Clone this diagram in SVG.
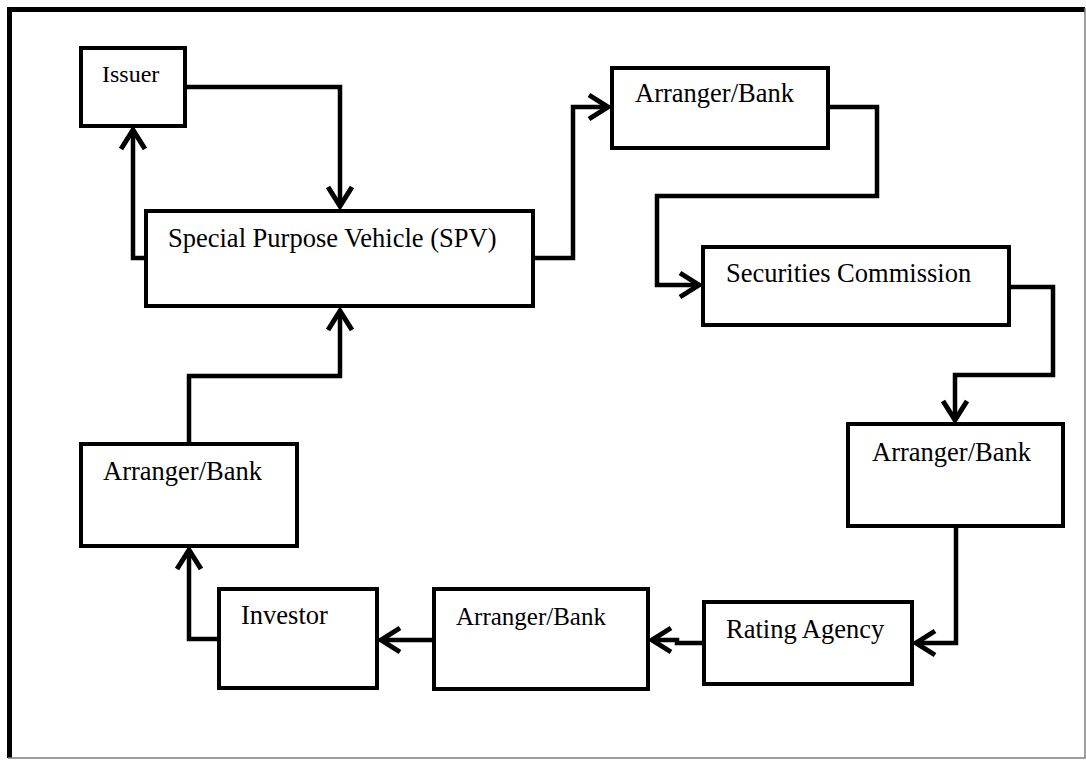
<svg xmlns="http://www.w3.org/2000/svg" width="1086" height="760" viewBox="0 0 1086 760">
  <style>
    .box { fill: #ffffff; stroke: #000000; stroke-width: 4; }
    .lbl { font-family: "Liberation Serif", "Times New Roman", serif; font-size: 26.5px; fill: #000000; }
    .link { fill: none; stroke: #000000; stroke-width: 4.5; stroke-linejoin: miter; marker-end: url(#chev); }
  </style>
  <defs>
    <marker id="chev" markerUnits="userSpaceOnUse" markerWidth="30" markerHeight="30" refX="0" refY="0" viewBox="-24 -15 30 30" orient="auto" overflow="visible">
      <path d="M-19,-12 L0,0 L-19,12" fill="none" stroke="#000000" stroke-width="5" stroke-linejoin="miter"/>
    </marker>
  </defs>

  <rect width="1086" height="760" fill="#ffffff"/>

  <!-- frame: heavy top/left rules, light right/bottom edge -->
  <path d="M1085,9.5 H9.5 V758" fill="none" stroke="#000000" stroke-width="5"/>
  <path d="M1085,8 V758 H8" fill="none" stroke="#808080" stroke-width="1.5"/>

  <g id="connectors">
    <path class="link" d="M185,87 H340 V206"/>
    <path class="link" d="M146,258 H133 V130"/>
    <path class="link" d="M533,258 H573 V107 H608"/>
    <path class="link" d="M828,107 H877 V196 H657 V285 H699"/>
    <path class="link" d="M1009,287 H1053 V375 H955 V420"/>
    <path class="link" d="M956,526 V643 H916"/>
    <path class="link" d="M704,643 H677 V640 H652"/>
    <path class="link" d="M434,640 H381"/>
    <path class="link" d="M219,639 H189 V550"/>
    <path class="link" d="M189,444 V376 H340 V311"/>
  </g>

  <g id="issuer">
    <rect class="box" x="81" y="48" width="104" height="78"/>
    <text class="lbl" x="102" y="82" style="font-size:24px">Issuer</text>
  </g>

  <g id="spv">
    <rect class="box" x="146" y="211" width="387" height="95"/>
    <text class="lbl" x="168" y="247">Special Purpose Vehicle (SPV)</text>
  </g>

  <g id="arranger-top">
    <rect class="box" x="612" y="68" width="216" height="80"/>
    <text class="lbl" x="635" y="102">Arranger/Bank</text>
  </g>

  <g id="securities-commission">
    <rect class="box" x="703" y="247" width="306" height="78"/>
    <text class="lbl" x="726" y="282">Securities Commission</text>
  </g>

  <g id="arranger-right">
    <rect class="box" x="848" y="424" width="215" height="102"/>
    <text class="lbl" x="872" y="461">Arranger/Bank</text>
  </g>

  <g id="rating-agency">
    <rect class="box" x="704" y="602" width="208" height="82"/>
    <text class="lbl" x="726" y="638">Rating Agency</text>
  </g>

  <g id="arranger-bottom">
    <rect class="box" x="434" y="589" width="214" height="100"/>
    <text class="lbl" x="456" y="625" style="font-size:25px">Arranger/Bank</text>
  </g>

  <g id="investor">
    <rect class="box" x="219" y="589" width="158" height="99"/>
    <text class="lbl" x="241" y="624">Investor</text>
  </g>

  <g id="arranger-left">
    <rect class="box" x="81" y="444" width="216" height="102"/>
    <text class="lbl" x="103" y="480">Arranger/Bank</text>
  </g>
</svg>
